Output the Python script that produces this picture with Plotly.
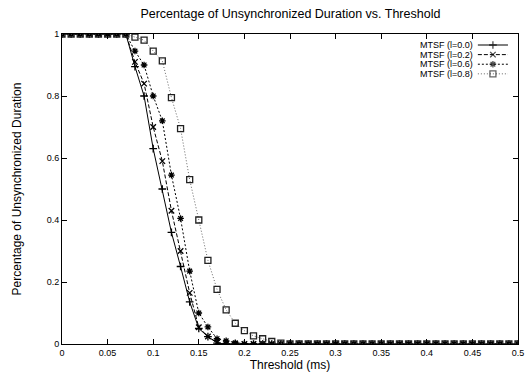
import plotly.graph_objects as go

thresholds = [round(i * 0.01, 2) for i in range(51)]

lead = [1.0] * 8  # 0.00 .. 0.07
l00 = lead + [0.895, 0.80, 0.63, 0.50, 0.36, 0.25, 0.136, 0.05, 0.024, 0.003] + [0.0] * 33
l02 = lead + [0.91, 0.84, 0.70, 0.59, 0.43, 0.30, 0.165, 0.054, 0.024, 0.005] + [0.0] * 33
l06 = lead + [0.945, 0.90, 0.80, 0.72, 0.545, 0.405, 0.235, 0.10, 0.055, 0.017, 0.01, 0.004] + [0.0] * 31
l08 = lead + [0.99, 0.98, 0.945, 0.913, 0.795, 0.695, 0.53, 0.40, 0.27, 0.176, 0.11, 0.067,
              0.043, 0.026, 0.017, 0.008, 0.003] + [0.0] * 26

series_names = ["MTSF (l=0.0)", "MTSF (l=0.2)", "MTSF (l=0.6)", "MTSF (l=0.8)"]
series_vals = [l00, l02, l06, l08]
dashes = ["solid", "4px,2px", "2px,2px", "1px,2px"]
symbols = ["cross-thin-open", "x-thin-open", "asterisk-open", "square-open"]
sizes = [5.5, 5.5, 5.5, 6]
colors = ["#000000", "#000000", "#000000", "#666666"]
marker_colors = ["#000000", "#000000", "#000000", "#222222"]

x_ticks = [0, 0.05, 0.1, 0.15, 0.2, 0.25, 0.3, 0.35, 0.4, 0.45, 0.5]
x_ticklabels = ["0", "0.05", "0.1", "0.15", "0.2", "0.25", "0.3", "0.35", "0.4", "0.45", "0.5"]
y_ticks = [0, 0.2, 0.4, 0.6, 0.8, 1]
y_ticklabels = ["0", "0.2", "0.4", "0.6", "0.8", "1"]

fig = go.Figure()
for name, vals, d, s, sz, c, mc in zip(series_names, series_vals, dashes, symbols, sizes, colors, marker_colors):
    fig.add_trace(go.Scatter(
        x=thresholds, y=vals, name=name, mode="lines+markers", showlegend=False,
        line=dict(color=c, width=1, dash=d),
        marker=dict(symbol=s, size=sz, color=mc, line=dict(color=mc, width=1.3)),
    ))

# gnuplot-style key: text on the left, sample on the right (drawn on an overlay axis in 0..1 units)
font = "Liberation Sans, Arial, sans-serif"
key_top = 0.9645
key_step = 0.031
key_x0, key_xm, key_x1 = 0.912, 0.945, 0.978
annotations = []
for i, (name, d, s, sz, c, mc) in enumerate(zip(series_names, dashes, symbols, sizes, colors, marker_colors)):
    ky = key_top - i * key_step
    fig.add_trace(go.Scatter(
        x=[key_x0, key_xm, key_x1], y=[ky, ky, ky], xaxis="x2", yaxis="y2",
        mode="lines+markers", showlegend=False, hoverinfo="skip",
        line=dict(color=c, width=1, dash=d),
        marker=dict(symbol=s, size=[0, sz, 0], color=mc, line=dict(color=mc, width=1.3)),
    ))
    annotations.append(dict(text=name, x=0.9035, y=ky, xref="paper", yref="paper",
                            xanchor="right", yanchor="middle", showarrow=False, borderpad=0,
                            font=dict(size=9, family=font)))

fig.update_layout(
    width=528, height=376,
    margin=dict(l=62, r=10, t=34, b=32),
    paper_bgcolor="white", plot_bgcolor="white",
    font=dict(family=font, color="black", size=10),
    title=dict(text="Percentage of Unsynchronized Duration vs. Threshold",
               x=0.55, xanchor="center", y=0.975, yanchor="top",
               font=dict(size=12.5, family=font)),
    showlegend=False,
    annotations=annotations,
    xaxis=dict(range=[0, 0.5], tickvals=x_ticks, ticktext=x_ticklabels,
               ticks="inside", ticklen=5, tickcolor="black",
               showline=True, linecolor="black", linewidth=1, mirror="ticks",
               showgrid=False, zeroline=False, automargin=False,
               tickfont=dict(size=9),
               title=dict(text="Threshold (ms)", font=dict(size=12), standoff=2)),
    yaxis=dict(range=[0, 1], tickvals=y_ticks, ticktext=y_ticklabels,
               ticks="inside", ticklen=5, tickcolor="black",
               showline=True, linecolor="black", linewidth=1, mirror="ticks",
               showgrid=False, zeroline=False, automargin=False,
               tickfont=dict(size=9),
               title=dict(text="Percentage of Unsynchronized Duration", font=dict(size=12), standoff=22)),
    xaxis2=dict(overlaying="x", range=[0, 1], visible=False, fixedrange=True),
    yaxis2=dict(overlaying="y", range=[0, 1], visible=False, fixedrange=True),
)

fig.write_html("out.html")
